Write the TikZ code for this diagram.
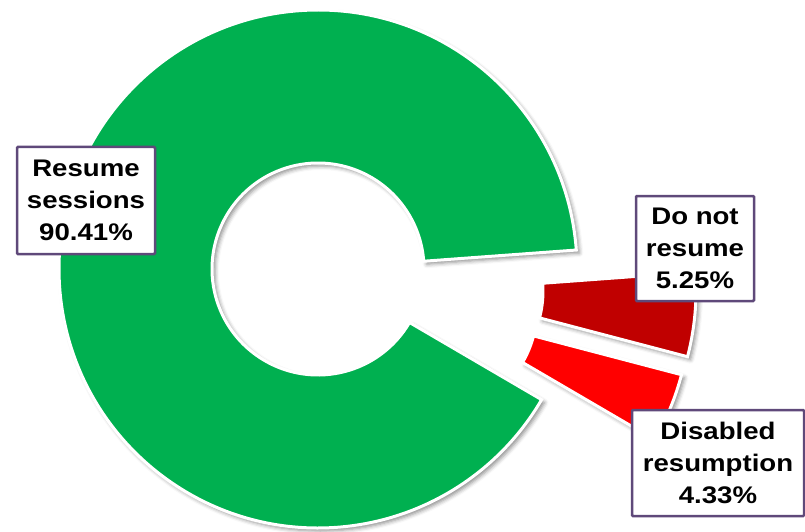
\documentclass[tikz,border=0pt]{standalone}
\usepackage{fontspec}
\setmainfont{Liberation Sans}[FakeStretch=1.15]
\usetikzlibrary{shadows.blur}
\definecolor{slgreen}{HTML}{00B050}
\definecolor{sldark}{HTML}{C00000}
\definecolor{slred}{HTML}{FF0000}
\definecolor{lblborder}{HTML}{5F497A}
\begin{document}
\begin{tikzpicture}[x=1pt,y=1pt,
  slice/.style={draw=white, line width=3pt, line join=miter,
    blur shadow={shadow xshift=3pt, shadow yshift=-3pt, shadow blur radius=4pt, shadow opacity=45}},
  lbl/.style={draw=lblborder, line width=2.5pt, fill=white, align=center,
    font=\fontsize{24}{32}\selectfont\bfseries, inner sep=0pt, rounded corners=1pt}]
\useasboundingbox (0,0) rectangle (805,531);
\coordinate (cg) at (318,262);
\coordinate (cd) at (437,240);
\coordinate (cr) at (431,222);
% green slice
\path[slice, fill=slgreen] ([shift={(4.2:259pt)}]cg) arc[start angle=4.2, end angle=329.7, radius=259pt]
  -- ([shift={(329.7:106pt)}]cg) arc[start angle=329.7, end angle=4.2, radius=106pt] -- cycle;
% dark red slice
\path[slice, fill=sldark] ([shift={(-14.7:259pt)}]cd) arc[start angle=-14.7, end angle=4.2, radius=259pt]
  -- ([shift={(4.2:106pt)}]cd) arc[start angle=4.2, end angle=-14.7, radius=106pt] -- cycle;
% red slice
\path[slice, fill=slred] ([shift={(-30.3:259pt)}]cr) arc[start angle=-30.3, end angle=-14.7, radius=259pt]
  -- ([shift={(-14.7:106pt)}]cr) arc[start angle=-14.7, end angle=-30.3, radius=106pt] -- cycle;
% labels
\node[lbl, minimum width=138pt, minimum height=107pt] (resume) at (86,330.5) {Resume\\sessions\\90.41\%};
\node[lbl, minimum width=118pt, minimum height=105pt] (donot) at (695,282.5) {Do not\\resume\\5.25\%};
\node[lbl, minimum width=172pt, minimum height=106pt] (disabled) at (718,68) {Disabled\\resumption\\4.33\%};
\end{tikzpicture}
\end{document}
